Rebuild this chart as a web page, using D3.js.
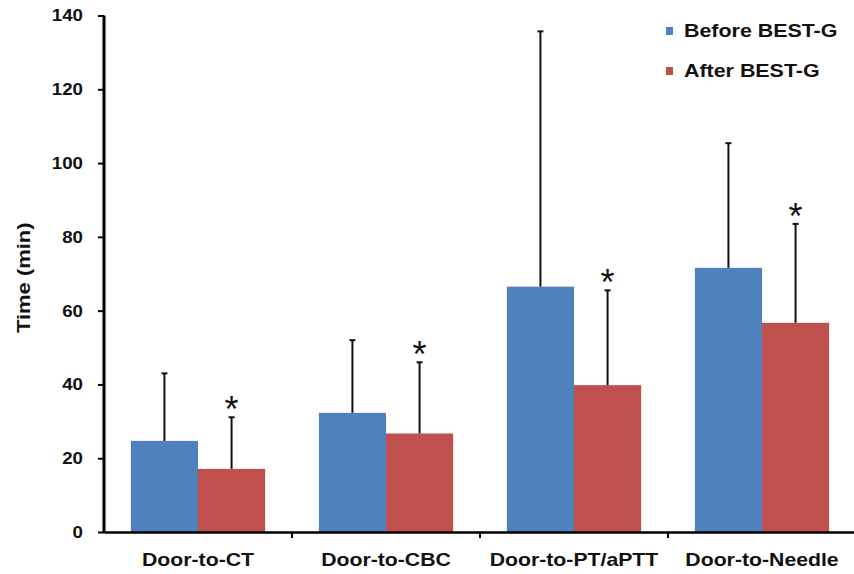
<!DOCTYPE html>
<html>
<head>
<meta charset="utf-8">
<script src="https://cdn.jsdelivr.net/npm/d3@7"></script>
<style>
  body { margin: 0; background: #fff; }
  text { font-family: "Liberation Sans", Arial, sans-serif; font-weight: bold; fill: #111; }
</style>
</head>
<body>
<div id="chart"></div>
<script>
const categories = ["Door-to-CT", "Door-to-CBC", "Door-to-PT/aPTT", "Door-to-Needle"];
const seriesNames = ["Before BEST-G", "After BEST-G"];
const beforeValues = [24.7, 32.3, 66.5, 71.6];
const afterValues = [17.1, 26.7, 39.8, 56.7];
const beforeErrTop = [43.0, 52.0, 135.7, 105.4];
const afterErrTop = [31.1, 46.0, 65.5, 83.5];
const significant = [true, true, true, true];
const yTicks = [0, 20, 40, 60, 80, 100, 120, 140];
const colors = ["#4f81bd", "#c0504d"];

const width = 854, height = 574;
const margin = { top: 15.5, right: -2, bottom: 42, left: 104 };

const svg = d3.select("#chart").append("svg")
  .attr("width", width)
  .attr("height", height);

const x = d3.scaleBand()
  .domain(categories)
  .range([margin.left, width - margin.right])
  .paddingInner(0)
  .paddingOuter(0);

const inner = d3.scaleBand()
  .domain(seriesNames)
  .range([0, x.bandwidth()])
  .paddingOuter(0.4)
  .paddingInner(0);

const y = d3.scaleLinear()
  .domain([0, 140])
  .range([height - margin.bottom, margin.top]);

const series = [beforeValues, afterValues];
const errTops = [beforeErrTop, afterErrTop];

// stretch text a bit horizontally (the source font is wider than Arial)
function widen(sel, k) {
  sel.each(function() {
    const t = d3.select(this);
    const tx = +t.attr("x") || 0;
    const prev = t.attr("transform") || "";
    t.attr("transform", prev + " translate(" + tx + ",0) scale(" + k + ",1) translate(" + (-tx) + ",0)");
  });
}

// bars
seriesNames.forEach((name, s) => {
  svg.append("g").selectAll("rect")
    .data(categories)
    .enter().append("rect")
    .attr("x", d => x(d) + inner(name))
    .attr("y", (d, i) => y(series[s][i]))
    .attr("width", inner.bandwidth())
    .attr("height", (d, i) => y(0) - y(series[s][i]))
    .attr("fill", colors[s]);
});

// error bars (upper only)
seriesNames.forEach((name, s) => {
  const g = svg.append("g");
  categories.forEach((c, i) => {
    const cx = x(c) + inner(name) + inner.bandwidth() / 2;
    g.append("line")
      .attr("x1", cx).attr("x2", cx)
      .attr("y1", y(series[s][i])).attr("y2", y(errTops[s][i]))
      .attr("stroke", "#111").attr("stroke-width", 2);
    g.append("line")
      .attr("x1", cx - 3).attr("x2", cx + 3)
      .attr("y1", y(errTops[s][i])).attr("y2", y(errTops[s][i]))
      .attr("stroke", "#111").attr("stroke-width", 2);
    if (s === 1 && significant[i]) {
      g.append("text")
        .attr("x", cx)
        .attr("y", y(errTops[s][i]) + 5)
        .attr("text-anchor", "middle")
        .style("font-size", "36px")
        .style("font-weight", "normal")
        .text("*");
    }
  });
});

// y axis
const yAxis = svg.append("g")
  .attr("transform", "translate(" + margin.left + ",0)")
  .call(d3.axisLeft(y).tickValues(yTicks).tickSize(6).tickSizeOuter(0).tickPadding(15));
yAxis.select(".domain").remove();
yAxis.selectAll(".tick line").attr("stroke", "#000").attr("stroke-width", 2);
yAxis.selectAll("text").style("font-size", "17px").attr("fill", "#111");
widen(yAxis.selectAll("text"), 1.1);
svg.append("rect")
  .attr("x", margin.left - 1.5).attr("y", y(140))
  .attr("width", 3).attr("height", y(0) - y(140) + 1)
  .attr("fill", "#000");

// x axis
const xAxis = svg.append("g")
  .attr("transform", "translate(0," + y(0) + ")")
  .call(d3.axisBottom(x).tickSize(0).tickSizeOuter(0).tickPadding(21));
xAxis.select(".domain").attr("stroke", "#000").attr("stroke-width", 2.5);
xAxis.selectAll("text").style("font-size", "18px").attr("fill", "#111");
widen(xAxis.selectAll("text"), 1.18);
// tick marks between categories
svg.append("g").selectAll("line")
  .data(categories.slice(1))
  .enter().append("line")
  .attr("x1", d => x(d)).attr("x2", d => x(d))
  .attr("y1", y(0)).attr("y2", y(0) + 6)
  .attr("stroke", "#000").attr("stroke-width", 2);

// y axis title
const yTitle = svg.append("text")
  .attr("transform", "translate(30," + ((y(0) + y(140)) / 2 + 4) + ") rotate(-90)")
  .attr("text-anchor", "middle")
  .style("font-size", "18px")
  .text("Time (min)");
widen(yTitle, 1.22);

// legend
const legend = svg.append("g").attr("transform", "translate(666,27)");
seriesNames.forEach((name, s) => {
  legend.append("rect")
    .attr("x", 0).attr("y", s * 40)
    .attr("width", 7).attr("height", 8)
    .attr("fill", colors[s]);
  const t = legend.append("text")
    .attr("x", 18).attr("y", s * 40 + 10)
    .style("font-size", "18px")
    .text(name);
  widen(t, 1.19);
});
</script>
</body>
</html>
